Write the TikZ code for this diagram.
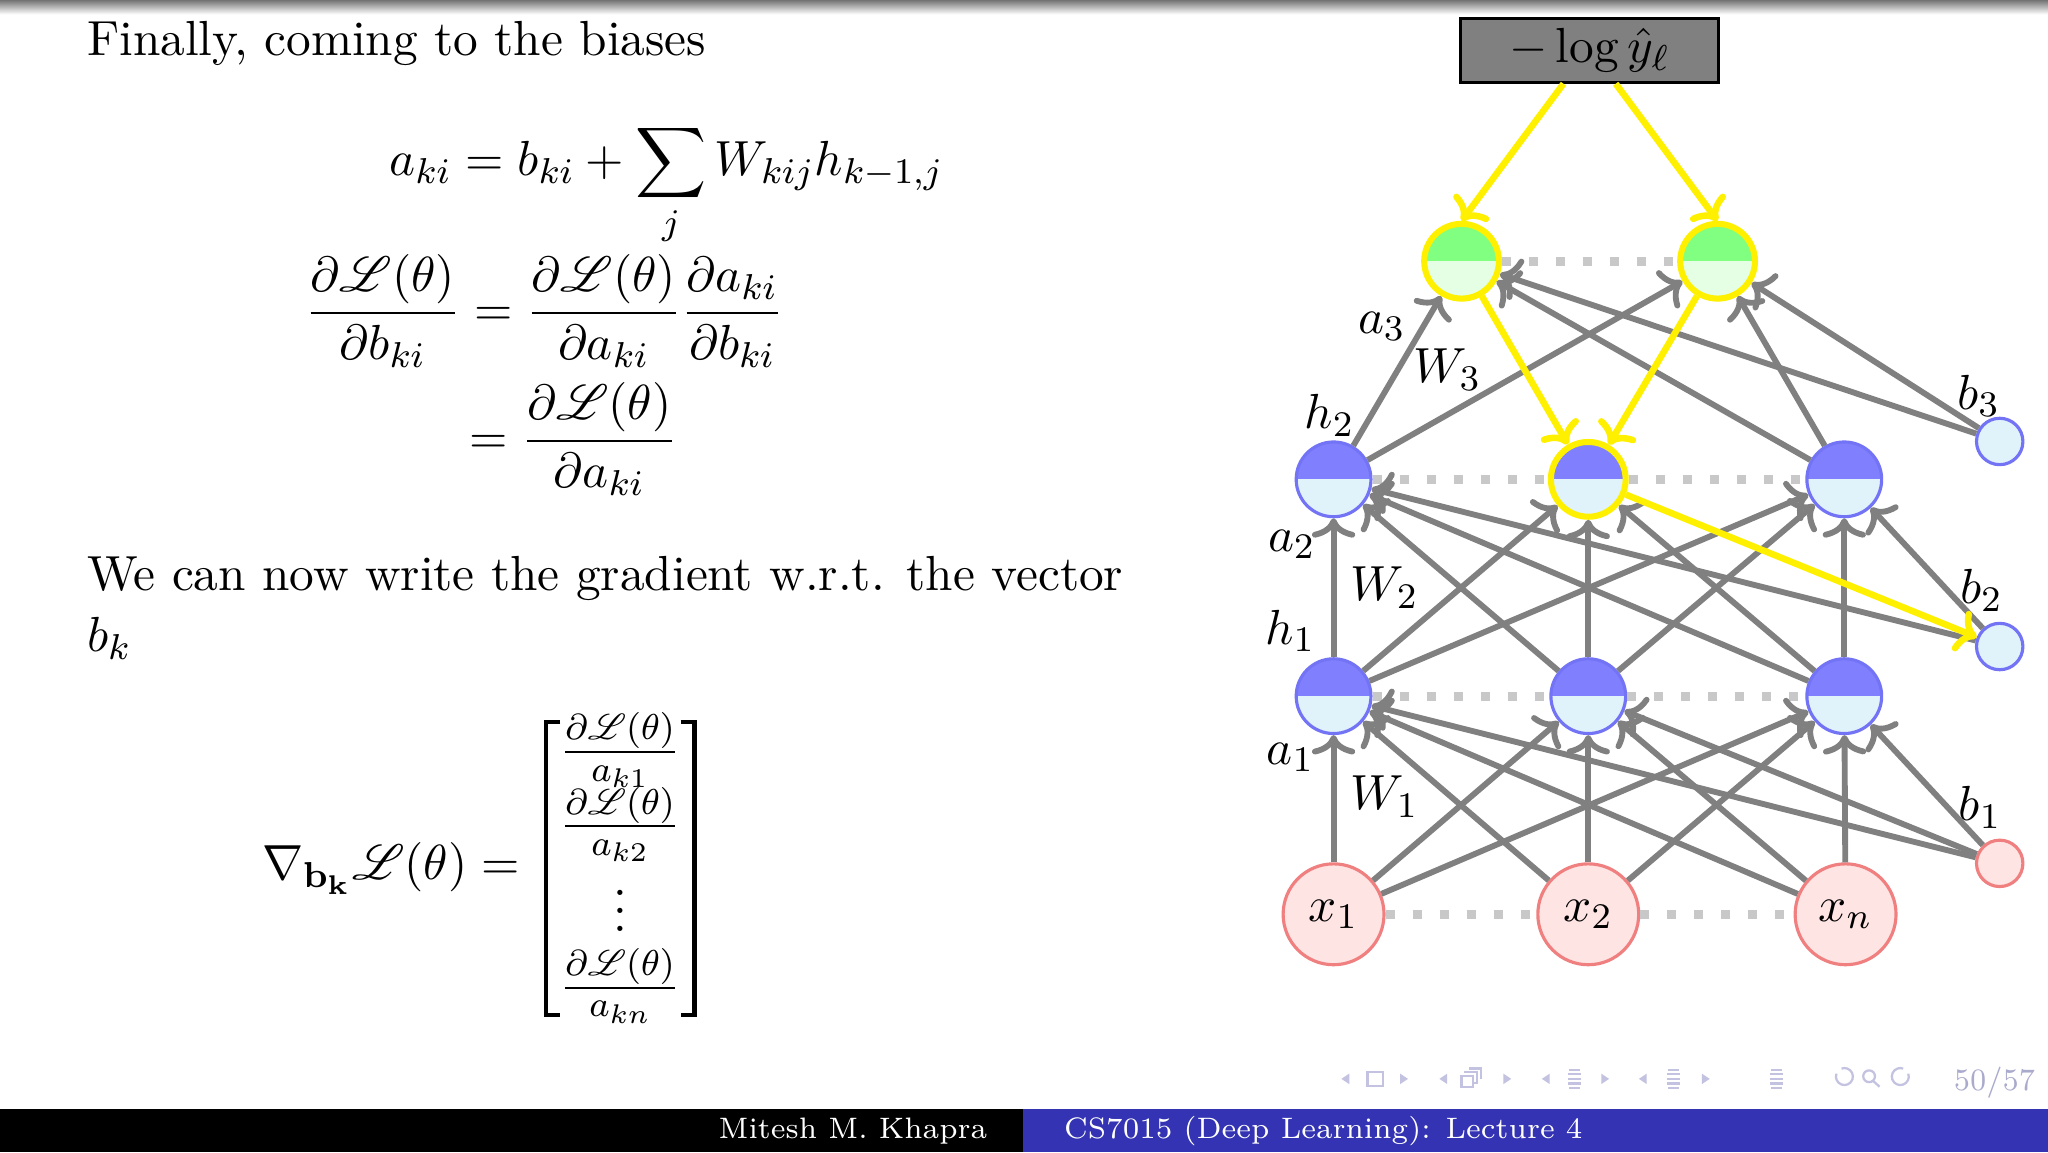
\documentclass[tikz,border=0pt]{standalone}
\usepackage{amsmath}
\usepackage{mathrsfs}
\usetikzlibrary{arrows.meta,calc}
\definecolor{edgegray}{RGB}{128,128,128}
\definecolor{dotgray}{RGB}{200,200,200}
\definecolor{ylw}{RGB}{255,240,0}
\definecolor{hidtop}{RGB}{128,128,255}
\definecolor{hidlow}{RGB}{224,242,250}
\definecolor{hidborder}{RGB}{115,115,245}
\definecolor{outtop}{RGB}{128,255,128}
\definecolor{outlow}{RGB}{228,255,228}
\definecolor{inlow}{RGB}{255,228,228}
\definecolor{inborder}{RGB}{240,128,128}
\definecolor{beamerblue}{RGB}{51,51,179}
\definecolor{navc}{RGB}{195,195,225}
\definecolor{pagec}{RGB}{170,170,205}
\tikzset{
  tipcm/.tip={Computer Modern Rightarrow[length=4.3pt,width=9.6pt]},
  edge/.style={draw=edgegray, line width=1.3pt, -tipcm},
  yedge/.style={draw=ylw, line width=1.45pt, -tipcm},
  dotline/.style={draw=dotgray, line width=2pt, dash pattern=on 2pt off 4pt},
  hid/.style={circle, minimum size=16.6pt, inner sep=0pt, draw=hidborder, line width=0.7pt, fill=hidlow,
    path picture={\fill[hidtop] (path picture bounding box.west) rectangle (path picture bounding box.north east);}},
  outn/.style={circle, minimum size=16.6pt, inner sep=0pt, draw=ylw, line width=1.35pt, fill=outlow,
    path picture={\fill[outtop] (path picture bounding box.west) rectangle (path picture bounding box.north east);}},
  hl/.style={draw=ylw, line width=1.35pt},
  inp/.style={circle, minimum size=22.4pt, inner sep=0pt, draw=inborder, line width=0.7pt, fill=inlow},
  biasb/.style={circle, minimum size=10.3pt, inner sep=0pt, draw=hidborder, line width=0.7pt, fill=hidlow},
  biasr/.style={circle, minimum size=10.3pt, inner sep=0pt, draw=inborder, line width=0.7pt, fill=inlow},
  lbl/.style={inner sep=0pt},
  txt/.style={inner sep=0pt, anchor=base west},
  foot/.style={text=white, font=\fontsize{7.3}{9}\selectfont, inner sep=0pt},
}
\begin{document}
\begin{tikzpicture}[x=0.0102cm, y=-0.0102cm, font=\fontsize{10.95}{13.6}\selectfont]
\useasboundingbox (0,0) rectangle (1568,882);
\fill[white] (0,0) rectangle (1568,882);
\shade[top color={rgb,255:red,115;green,115;blue,115}, bottom color=white] (0,0) rectangle (1568,11);

% ---------------- left text ----------------
\node[txt] (t1) at (66,42.5) {Finally, coming to the biases};
\node[txt] (eq1) at (297.6,134) {$\displaystyle a_{ki}=b_{ki}+\sum_j W_{kij}h_{k-1,j}$};
\node[txt] (eq2) at (233,249) {$\displaystyle \frac{\partial\mathscr{L}(\theta)}{\partial b_{ki}}=\frac{\partial\mathscr{L}(\theta)}{\partial a_{ki}}\frac{\partial a_{ki}}{\partial b_{ki}}$};
\node[txt] (eq3) at (359,347) {$\displaystyle =\frac{\partial\mathscr{L}(\theta)}{\partial a_{ki}}$};
\node[txt, align=left] (t2) at (66,499) {We can now write the gradient w.r.t. the vector\\$b_k$};
\node[txt] (grad) at (200,673.5) {$\displaystyle \nabla_{\mathbf{b_k}}\mathscr{L}(\theta)=$};
\draw[line width=1pt] (429,552.6) -- (418,552.6) -- (418,777) -- (429,777);
\draw[line width=1pt] (521,552.6) -- (531.7,552.6) -- (531.7,777) -- (521,777);
\node[inner sep=0pt, anchor=base] (m1) at (474.8,585) {$\frac{\partial\mathscr{L}(\theta)}{a_{k1}}$};
\node[inner sep=0pt, anchor=base] (m2) at (474.8,642) {$\frac{\partial\mathscr{L}(\theta)}{a_{k2}}$};
\node[inner sep=0pt, anchor=base] (m3) at (474.8,713) {$\vdots$};
\node[inner sep=0pt, anchor=base] (m4) at (474.8,765.5) {$\frac{\partial\mathscr{L}(\theta)}{a_{kn}}$};

% ---------------- network nodes ----------------
\node[draw=black, fill=edgegray, line width=0.6pt, minimum width=57.2pt, minimum height=14.2pt, inner sep=0pt] (loss) at (1217,38.6) {$-\log\hat{y}_\ell$};
\coordinate (ly1) at ($(loss.south)+(-20,0)$);
\coordinate (ly2) at ($(loss.south)+(20,0)$);
\node[outn] (o1) at (1119,200) {};
\node[outn] (o2) at (1315,200) {};
\node[hid] (h21) at (1021,367) {};
\node[hid, hl] (h22) at (1216,367) {};
\node[hid] (h23) at (1412,367) {};
\node[hid] (h11) at (1021,533) {};
\node[hid] (h12) at (1216,533) {};
\node[hid] (h13) at (1412,533) {};
\node[inp] (x1) at (1021,700) {$x_1$};
\node[inp] (x2) at (1216,700) {$x_2$};
\node[inp] (xn) at (1413,700) {$x_n$};
\node[biasb] (b3) at (1531,338) {};
\node[biasb] (b2) at (1531,495) {};
\node[biasr] (b1) at (1531,661) {};

% dotted layer lines
\draw[dotline] (o1) -- (o2);
\draw[dotline] (h21) -- (h22);
\draw[dotline] (h22) -- (h23);
\draw[dotline] (h11) -- (h12);
\draw[dotline] (h12) -- (h13);
\draw[dotline] (x1) -- (x2);
\draw[dotline] (x2) -- (xn);

% gray edges
\foreach \s in {x1,x2,xn,b1} \foreach \t in {h11,h12,h13} \draw[edge] (\s) -- (\t);
\foreach \s in {h11,h12,h13} \foreach \t in {h21,h22,h23} \draw[edge] (\s) -- (\t);
\foreach \t in {h21,h23} \draw[edge] (b2) -- (\t);
\foreach \s in {h21,h23,b3} \foreach \t in {o1,o2} \draw[edge] (\s) -- (\t);

% yellow edges
\draw[yedge] (ly1) -- (o1.north);
\draw[yedge] (ly2) -- (o2.north);
\draw[yedge] (o1) -- (h22);
\draw[yedge] (o2) -- (h22);
\draw[yedge] (h22) -- (b2);

% labels
\node[lbl] (la3) at (1058,250) {$a_3$};
\node[lbl] (lw3) at (1108,283) {$W_3$};
\node[lbl] (lh2) at (1018,318) {$h_2$};
\node[lbl] (la2) at (989,417) {$a_2$};
\node[lbl] (lw2) at (1060,450) {$W_2$};
\node[lbl] (lh1) at (988,483) {$h_1$};
\node[lbl] (la1) at (988,580) {$a_1$};
\node[lbl] (lw1) at (1060,610) {$W_1$};
\node[lbl] (lb3) at (1515,303) {$b_3$};
\node[lbl] (lb2) at (1517,452) {$b_2$};
\node[lbl] (lb1) at (1516,618) {$b_1$};

% ---------------- navigation ----------------
\begin{scope}[fill=navc, draw=navc, line width=0.5pt]
\foreach \xa/\xb in {1030/1075, 1105/1154, 1183.5/1229, 1257.7/1306} {
  \fill (\xa-3,826) -- (\xa+3,822) -- (\xa+3,830) -- cycle;
  \fill (\xb+3,826) -- (\xb-3,822) -- (\xb-3,830) -- cycle;
}
\draw (1047,820.5) rectangle (1059,831.5);
\draw (1119,824) rectangle (1128,832);
\draw (1122,821.5) -- (1122,820.5) -- (1131,820.5) -- (1131,829) -- (1128,829);
\draw (1125,818) -- (1134,818) -- (1134,826);
\foreach \xx in {1205.5,1281.3,1360} {
  \draw (\xx-4,819) -- (\xx+4,819);
  \draw (\xx-5,822.5) -- (\xx+5,822.5);
  \draw (\xx-5,826) -- (\xx+5,826);
  \draw (\xx-5,829.5) -- (\xx+5,829.5);
  \draw (\xx-4,833) -- (\xx+4,833);
}
\draw (1406,822) arc (200:-110:6.5);
\draw (1431,824) circle (4.5);
\draw (1434,827.5) -- (1439,832);
\draw (1461,822) arc (-20:290:6.5);
\end{scope}
\node[foot, text=pagec] (page) at (1527,829) {\scalebox{0.87}[0.95]{50/57}};

% ---------------- footer ----------------
\fill[black] (0,849) rectangle (783,882);
\fill[beamerblue] (783,849) rectangle (1568,882);
\node[foot] (ft1) at (653,866) {\scalebox{0.885}[0.9]{Mitesh M. Khapra}};
\node[foot, anchor=west] (ft2) at (814,866) {\scalebox{0.885}[0.9]{CS7015 (Deep Learning): Lecture 4}};
\end{tikzpicture}
\end{document}
